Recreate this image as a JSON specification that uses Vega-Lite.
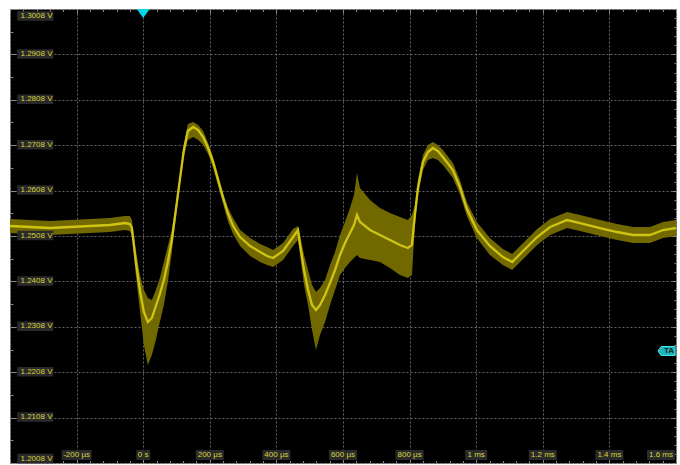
{
  "$schema": "https://vega.github.io/schema/vega-lite/v6.json",
  "width": 666,
  "height": 454,
  "autosize": {"type": "none"},
  "padding": {"left": 10, "top": 9, "right": 4, "bottom": 2},
  "background": "#ffffff",
  "config": {"view": {"fill": "#000000", "stroke": "#8a8a8a", "strokeWidth": 1}},
  "datasets": {
    "trace": [
      {"t": -400, "v": 1.25300, "hi": 1.25454, "lo": 1.25146},
      {"t": -340, "v": 1.25278, "hi": 1.25432, "lo": 1.25124},
      {"t": -280, "v": 1.25256, "hi": 1.25410, "lo": 1.25102},
      {"t": -220, "v": 1.25278, "hi": 1.25432, "lo": 1.25124},
      {"t": -160, "v": 1.25300, "hi": 1.25454, "lo": 1.25146},
      {"t": -100, "v": 1.25322, "hi": 1.25476, "lo": 1.25168},
      {"t": -55, "v": 1.25366, "hi": 1.25521, "lo": 1.25212},
      {"t": -40, "v": 1.25344, "hi": 1.25521, "lo": 1.25190},
      {"t": -34, "v": 1.25256, "hi": 1.25432, "lo": 1.25080},
      {"t": -22, "v": 1.24507, "hi": 1.24772, "lo": 1.24221},
      {"t": -10, "v": 1.23891, "hi": 1.24221, "lo": 1.23450},
      {"t": 2, "v": 1.23406, "hi": 1.23891, "lo": 1.22679},
      {"t": 14, "v": 1.23186, "hi": 1.23714, "lo": 1.22239},
      {"t": 26, "v": 1.23274, "hi": 1.23670, "lo": 1.22459},
      {"t": 38, "v": 1.23538, "hi": 1.23891, "lo": 1.22789},
      {"t": 50, "v": 1.23802, "hi": 1.24155, "lo": 1.23186},
      {"t": 62, "v": 1.24111, "hi": 1.24507, "lo": 1.23560},
      {"t": 74, "v": 1.24507, "hi": 1.24860, "lo": 1.24067},
      {"t": 86, "v": 1.24992, "hi": 1.25212, "lo": 1.24728},
      {"t": 98, "v": 1.25653, "hi": 1.25785, "lo": 1.25476},
      {"t": 110, "v": 1.26313, "hi": 1.26424, "lo": 1.26181},
      {"t": 122, "v": 1.26974, "hi": 1.27084, "lo": 1.26820},
      {"t": 134, "v": 1.27393, "hi": 1.27547, "lo": 1.27194},
      {"t": 150, "v": 1.27481, "hi": 1.27591, "lo": 1.27261},
      {"t": 165, "v": 1.27415, "hi": 1.27525, "lo": 1.27194},
      {"t": 180, "v": 1.27261, "hi": 1.27393, "lo": 1.27084},
      {"t": 195, "v": 1.27018, "hi": 1.27128, "lo": 1.26886},
      {"t": 210, "v": 1.26710, "hi": 1.26820, "lo": 1.26578},
      {"t": 225, "v": 1.26313, "hi": 1.26424, "lo": 1.26181},
      {"t": 240, "v": 1.25917, "hi": 1.26027, "lo": 1.25785},
      {"t": 255, "v": 1.25565, "hi": 1.25697, "lo": 1.25388},
      {"t": 270, "v": 1.25300, "hi": 1.25476, "lo": 1.25124},
      {"t": 291, "v": 1.25058, "hi": 1.25212, "lo": 1.24860},
      {"t": 321, "v": 1.24860, "hi": 1.25036, "lo": 1.24640},
      {"t": 351, "v": 1.24728, "hi": 1.24904, "lo": 1.24507},
      {"t": 372, "v": 1.24640, "hi": 1.24838, "lo": 1.24441},
      {"t": 390, "v": 1.24595, "hi": 1.24772, "lo": 1.24397},
      {"t": 420, "v": 1.24750, "hi": 1.24926, "lo": 1.24551},
      {"t": 450, "v": 1.25058, "hi": 1.25234, "lo": 1.24860},
      {"t": 465, "v": 1.25212, "hi": 1.25300, "lo": 1.24992},
      {"t": 471, "v": 1.24882, "hi": 1.25102, "lo": 1.24662},
      {"t": 483, "v": 1.24331, "hi": 1.24662, "lo": 1.24001},
      {"t": 495, "v": 1.23891, "hi": 1.24331, "lo": 1.23560},
      {"t": 507, "v": 1.23560, "hi": 1.24001, "lo": 1.23010},
      {"t": 519, "v": 1.23450, "hi": 1.23847, "lo": 1.22569},
      {"t": 531, "v": 1.23560, "hi": 1.23935, "lo": 1.22899},
      {"t": 546, "v": 1.23780, "hi": 1.24111, "lo": 1.23186},
      {"t": 561, "v": 1.24045, "hi": 1.24441, "lo": 1.23560},
      {"t": 576, "v": 1.24331, "hi": 1.24728, "lo": 1.23891},
      {"t": 591, "v": 1.24662, "hi": 1.25102, "lo": 1.24221},
      {"t": 606, "v": 1.24926, "hi": 1.25388, "lo": 1.24375},
      {"t": 621, "v": 1.25146, "hi": 1.25697, "lo": 1.24507},
      {"t": 633, "v": 1.25322, "hi": 1.25983, "lo": 1.24595},
      {"t": 642, "v": 1.25543, "hi": 1.26468, "lo": 1.24662},
      {"t": 651, "v": 1.25388, "hi": 1.26137, "lo": 1.24595},
      {"t": 681, "v": 1.25212, "hi": 1.25873, "lo": 1.24551},
      {"t": 711, "v": 1.25102, "hi": 1.25697, "lo": 1.24507},
      {"t": 741, "v": 1.24992, "hi": 1.25587, "lo": 1.24375},
      {"t": 771, "v": 1.24882, "hi": 1.25499, "lo": 1.24221},
      {"t": 795, "v": 1.24816, "hi": 1.25432, "lo": 1.24155},
      {"t": 807, "v": 1.24882, "hi": 1.25543, "lo": 1.24221},
      {"t": 816, "v": 1.25543, "hi": 1.25763, "lo": 1.25322},
      {"t": 825, "v": 1.26137, "hi": 1.26313, "lo": 1.25961},
      {"t": 840, "v": 1.26710, "hi": 1.26864, "lo": 1.26534},
      {"t": 855, "v": 1.26930, "hi": 1.27084, "lo": 1.26754},
      {"t": 870, "v": 1.27018, "hi": 1.27150, "lo": 1.26798},
      {"t": 885, "v": 1.26952, "hi": 1.27084, "lo": 1.26754},
      {"t": 900, "v": 1.26820, "hi": 1.26974, "lo": 1.26644},
      {"t": 930, "v": 1.26534, "hi": 1.26688, "lo": 1.26357},
      {"t": 951, "v": 1.26159, "hi": 1.26313, "lo": 1.26005},
      {"t": 972, "v": 1.25675, "hi": 1.25829, "lo": 1.25521},
      {"t": 1002, "v": 1.25212, "hi": 1.25388, "lo": 1.25036},
      {"t": 1041, "v": 1.24860, "hi": 1.25036, "lo": 1.24662},
      {"t": 1080, "v": 1.24617, "hi": 1.24794, "lo": 1.24441},
      {"t": 1108, "v": 1.24507, "hi": 1.24684, "lo": 1.24331},
      {"t": 1141, "v": 1.24750, "hi": 1.24926, "lo": 1.24573},
      {"t": 1183, "v": 1.25058, "hi": 1.25234, "lo": 1.24882},
      {"t": 1222, "v": 1.25278, "hi": 1.25454, "lo": 1.25102},
      {"t": 1273, "v": 1.25432, "hi": 1.25609, "lo": 1.25256},
      {"t": 1312, "v": 1.25366, "hi": 1.25543, "lo": 1.25190},
      {"t": 1372, "v": 1.25256, "hi": 1.25432, "lo": 1.25080},
      {"t": 1423, "v": 1.25168, "hi": 1.25344, "lo": 1.24992},
      {"t": 1471, "v": 1.25102, "hi": 1.25278, "lo": 1.24926},
      {"t": 1522, "v": 1.25102, "hi": 1.25278, "lo": 1.24926},
      {"t": 1561, "v": 1.25212, "hi": 1.25388, "lo": 1.25036},
      {"t": 1600, "v": 1.25256, "hi": 1.25432, "lo": 1.25080}
    ],
    "ylab": [
      {"v": 1.3008, "label": "1.3008 V"},
      {"v": 1.2908, "label": "1.2908 V"},
      {"v": 1.2808, "label": "1.2808 V"},
      {"v": 1.2708, "label": "1.2708 V"},
      {"v": 1.2608, "label": "1.2608 V"},
      {"v": 1.2508, "label": "1.2508 V"},
      {"v": 1.2408, "label": "1.2408 V"},
      {"v": 1.2308, "label": "1.2308 V"},
      {"v": 1.2208, "label": "1.2208 V"},
      {"v": 1.2108, "label": "1.2108 V"},
      {"v": 1.2008, "label": "1.2008 V"}
    ],
    "xlab": [
      {"t": -200, "label": "-200 µs"},
      {"t": 0, "label": "0 s"},
      {"t": 200, "label": "200 µs"},
      {"t": 400, "label": "400 µs"},
      {"t": 600, "label": "600 µs"},
      {"t": 800, "label": "800 µs"},
      {"t": 1000, "label": "1 ms"},
      {"t": 1200, "label": "1.2 ms"},
      {"t": 1400, "label": "1.4 ms"},
      {"t": 1600, "label": "1.6 ms"}
    ],
    "trig": [{"t": 0, "v": 1.3008}],
    "lvl": [{"t": 1600, "v": 1.22547, "label": "TA"}]
  },
  "layer": [
    {
      "data": {"name": "trace"},
      "mark": {"type": "area", "color": "#716900", "opacity": 1},
      "encoding": {
        "x": {"field": "t", "type": "quantitative", "scale": {"domain": [-400, 1600], "nice": false, "zero": false},
          "axis": {"orient": "bottom", "title": null, "labels": false, "domain": false,
            "values": [-400,-360,-320,-280,-240,-200,-160,-120,-80,-40,0,40,80,120,160,200,240,280,320,360,400,440,480,520,560,600,640,680,720,760,800,840,880,920,960,1000,1040,1080,1120,1160,1200,1240,1280,1320,1360,1400,1440,1480,1520,1560,1600],
            "tickColor": "#8a8a8a",
            "tickSize": {"condition": {"test": "datum.value % 200 === 0", "value": -4}, "value": -2.5},
            "grid": true, "gridColor": "#666666", "gridDash": [2, 2],
            "gridOpacity": {"condition": {"test": "datum.value % 200 === 0", "value": 1}, "value": 0}}},
        "y": {"field": "lo", "type": "quantitative", "scale": {"domain": [1.2008, 1.3008], "nice": false, "zero": false},
          "axis": {"orient": "left", "title": null, "labels": false, "domain": false,
            "values": [1.2008,1.2058,1.2108,1.2158,1.2208,1.2258,1.2308,1.2358,1.2408,1.2458,1.2508,1.2558,1.2608,1.2658,1.2708,1.2758,1.2808,1.2858,1.2908,1.2958,1.3008],
            "tickColor": "#8a8a8a",
            "tickSize": {"condition": {"test": "abs((datum.value-1.2008)*100 - round((datum.value-1.2008)*100)) < 0.05", "value": -6}, "value": -3},
            "grid": true, "gridColor": "#666666", "gridDash": [2, 2],
            "gridOpacity": {"condition": {"test": "abs((datum.value-1.2008)*100 - round((datum.value-1.2008)*100)) < 0.05", "value": 1}, "value": 0}}},
        "y2": {"field": "hi"}
      }
    },
    {
      "data": {"name": "trace"},
      "mark": {"type": "line", "color": "#d4c814", "strokeWidth": 2.3, "opacity": 0.95},
      "encoding": {
        "x": {"field": "t", "type": "quantitative", "scale": {"domain": [-400, 1600], "nice": false, "zero": false},
          "axis": {"orient": "top", "title": null, "labels": false, "domain": false, "grid": false,
            "values": [-400,-360,-320,-280,-240,-200,-160,-120,-80,-40,0,40,80,120,160,200,240,280,320,360,400,440,480,520,560,600,640,680,720,760,800,840,880,920,960,1000,1040,1080,1120,1160,1200,1240,1280,1320,1360,1400,1440,1480,1520,1560,1600],
            "tickColor": "#8a8a8a",
            "tickSize": {"condition": {"test": "datum.value % 200 === 0", "value": -4}, "value": -2.5}}},
        "y": {"field": "v", "type": "quantitative", "scale": {"domain": [1.2008, 1.3008], "nice": false, "zero": false},
          "axis": {"orient": "right", "title": null, "labels": false, "domain": false, "grid": false,
            "values": [1.2008,1.2028,1.2048,1.2068,1.2088,1.2108,1.2128,1.2148,1.2168,1.2188,1.2208,1.2228,1.2248,1.2268,1.2288,1.2308,1.2328,1.2348,1.2368,1.2388,1.2408,1.2428,1.2448,1.2468,1.2488,1.2508,1.2528,1.2548,1.2568,1.2588,1.2608,1.2628,1.2648,1.2668,1.2688,1.2708,1.2728,1.2748,1.2768,1.2788,1.2808,1.2828,1.2848,1.2868,1.2888,1.2908,1.2928,1.2948,1.2968,1.2988,1.3008],
            "tickColor": "#8a8a8a",
            "tickSize": {"condition": {"test": "abs((datum.value-1.2008)*100 - round((datum.value-1.2008)*100)) < 0.05", "value": -4}, "value": -2}}}
      }
    },
    {
      "data": {"name": "ylab"},
      "encoding": {
        "x": {"datum": -400, "type": "quantitative", "scale": {"domain": [-400, 1600], "nice": false, "zero": false}, "axis": null},
        "y": {"field": "v", "type": "quantitative", "scale": {"domain": [1.2008, 1.3008], "nice": false, "zero": false}, "axis": null}
      },
      "layer": [
        {"transform": [{"filter": "datum.v > 1.3"}],
         "mark": {"type": "point", "filled": true, "opacity": 1, "color": "#2a2a2a", "strokeWidth": 0, "size": 10000, "yOffset": 7,
           "shape": "M0.146,-0.095L0.866,-0.095L0.866,0.095L0.146,0.095Z"}},
        {"transform": [{"filter": "datum.v < 1.201"}],
         "mark": {"type": "point", "filled": true, "opacity": 1, "color": "#2a2a2a", "strokeWidth": 0, "size": 10000, "yOffset": -4.5,
           "shape": "M0.146,-0.095L0.866,-0.095L0.866,0.095L0.146,0.095Z"}},
        {"transform": [{"filter": "datum.v >= 1.201 && datum.v <= 1.3"}],
         "mark": {"type": "point", "filled": true, "opacity": 1, "color": "#2a2a2a", "strokeWidth": 0, "size": 10000, "yOffset": -0.5,
           "shape": "M0.146,-0.095L0.866,-0.095L0.866,0.095L0.146,0.095Z"}},
        {"transform": [{"filter": "datum.v > 1.3"}],
         "mark": {"type": "text", "align": "left", "baseline": "middle", "dx": 10.5, "yOffset": 7, "font": "Liberation Sans", "fontSize": 8, "color": "#d9d23c"},
         "encoding": {"text": {"field": "label"}}},
        {"transform": [{"filter": "datum.v < 1.201"}],
         "mark": {"type": "text", "align": "left", "baseline": "middle", "dx": 10.5, "yOffset": -4.5, "font": "Liberation Sans", "fontSize": 8, "color": "#d9d23c"},
         "encoding": {"text": {"field": "label"}}},
        {"transform": [{"filter": "datum.v >= 1.201 && datum.v <= 1.3"}],
         "mark": {"type": "text", "align": "left", "baseline": "middle", "dx": 10.5, "yOffset": -0.5, "font": "Liberation Sans", "fontSize": 8, "color": "#d9d23c"},
         "encoding": {"text": {"field": "label"}}}
      ]
    },
    {
      "data": {"name": "xlab"},
      "encoding": {
        "x": {"field": "t", "type": "quantitative", "scale": {"domain": [-400, 1600], "nice": false, "zero": false}, "axis": null},
        "y": {"datum": 1.2008, "type": "quantitative", "scale": {"domain": [1.2008, 1.3008], "nice": false, "zero": false}, "axis": null}
      },
      "layer": [
        {"mark": {"type": "point", "filled": true, "opacity": 1, "color": "#2a2a2a", "strokeWidth": 0, "size": 10000, "yOffset": -8},
         "encoding": {"shape": {"field": "label", "type": "nominal", "legend": null,
           "scale": {"domain": ["-200 µs", "0 s", "200 µs", "400 µs", "600 µs", "800 µs", "1 ms", "1.2 ms", "1.4 ms", "1.6 ms"],
             "range": [
               "M-0.3,-0.1L0.3,-0.1L0.3,0.1L-0.3,0.1Z",
               "M-0.14,-0.1L0.14,-0.1L0.14,0.1L-0.14,0.1Z",
               "M-0.28,-0.1L0.28,-0.1L0.28,0.1L-0.28,0.1Z",
               "M-0.28,-0.1L0.28,-0.1L0.28,0.1L-0.28,0.1Z",
               "M-0.28,-0.1L0.28,-0.1L0.28,0.1L-0.28,0.1Z",
               "M-0.28,-0.1L0.28,-0.1L0.28,0.1L-0.28,0.1Z",
               "M-0.22,-0.1L0.22,-0.1L0.22,0.1L-0.22,0.1Z",
               "M-0.28,-0.1L0.28,-0.1L0.28,0.1L-0.28,0.1Z",
               "M-0.28,-0.1L0.28,-0.1L0.28,0.1L-0.28,0.1Z",
               "M-0.58,-0.1L-0.02,-0.1L-0.02,0.1L-0.58,0.1Z"
             ]}}}},
        {"transform": [{"filter": "datum.t < 1600"}],
         "mark": {"type": "text", "align": "center", "baseline": "middle", "yOffset": -8, "font": "Liberation Sans", "fontSize": 8, "color": "#d9d23c"},
         "encoding": {"text": {"field": "label"}}},
        {"transform": [{"filter": "datum.t >= 1600"}],
         "mark": {"type": "text", "align": "right", "baseline": "middle", "dx": -3, "yOffset": -8, "font": "Liberation Sans", "fontSize": 8, "color": "#d9d23c"},
         "encoding": {"text": {"field": "label"}}}
      ]
    },
    {
      "data": {"name": "trig"},
      "mark": {"type": "point", "filled": true, "opacity": 1, "color": "#00d8e8", "strokeWidth": 0, "size": 169, "shape": "M-1,0L1,0L0,1.4Z"},
      "encoding": {
        "x": {"field": "t", "type": "quantitative", "scale": {"domain": [-400, 1600], "nice": false, "zero": false}, "axis": null},
        "y": {"field": "v", "type": "quantitative", "scale": {"domain": [1.2008, 1.3008], "nice": false, "zero": false}, "axis": null}
      }
    },
    {
      "data": {"name": "lvl"},
      "encoding": {
        "x": {"field": "t", "type": "quantitative", "scale": {"domain": [-400, 1600], "nice": false, "zero": false}, "axis": null},
        "y": {"field": "v", "type": "quantitative", "scale": {"domain": [1.2008, 1.3008], "nice": false, "zero": false}, "axis": null}
      },
      "layer": [
        {"mark": {"type": "point", "filled": true, "opacity": 1, "fill": "#22b4b8", "stroke": "#40e8ec", "strokeWidth": 1, "size": 81,
          "shape": "M-0.2,-1L-3.3,-1L-4,0L-3.3,1L-0.2,1Z"}},
        {"mark": {"type": "text", "align": "right", "baseline": "middle", "dx": -2, "font": "Liberation Sans", "fontSize": 8, "fontWeight": "bold", "color": "#0a2e2e"},
         "encoding": {"text": {"field": "label"}}}
      ]
    }
  ],
  "resolve": {"axis": {"x": "independent", "y": "independent"}}
}
